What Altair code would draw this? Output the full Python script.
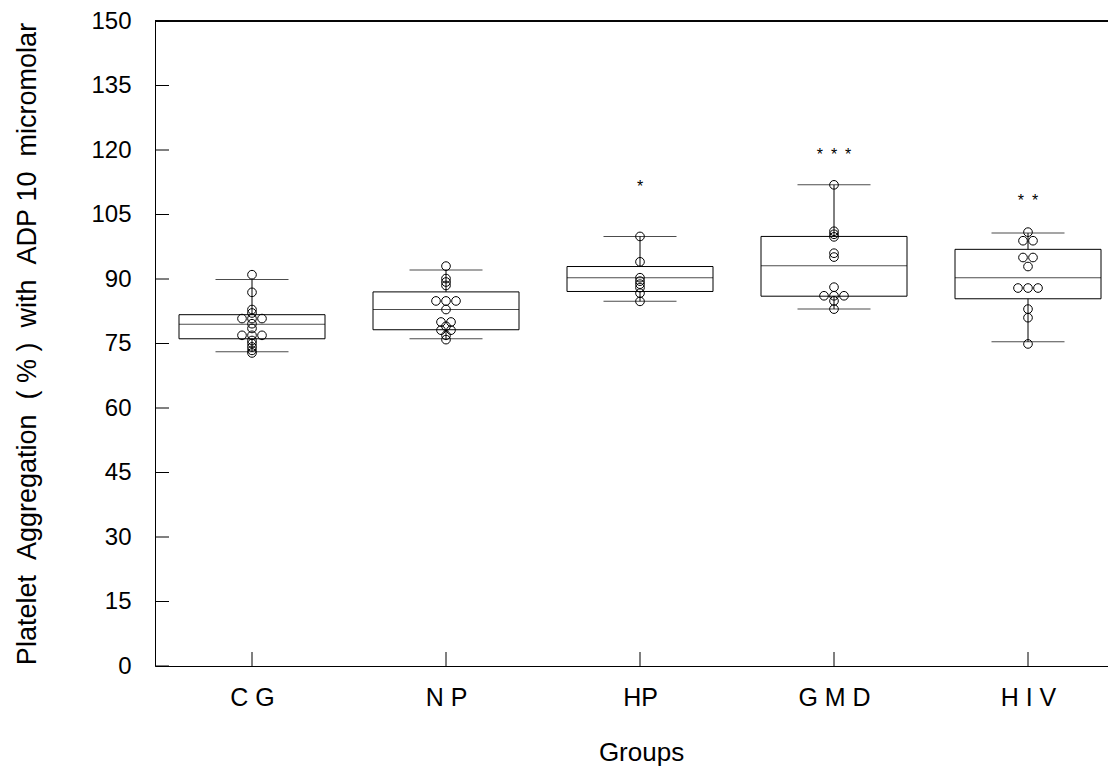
import altair as alt
import pandas as pd

# ---- data ----
groups = ["C G", "N P", "HP", "G M D", "H I V"]
q1 = [76.1, 78.2, 87.1, 86.0, 85.4]
median = [79.5, 82.9, 90.3, 93.1, 90.3]
q3 = [81.7, 87.0, 92.9, 99.9, 96.9]
whisker_low = [73.1, 76.1, 84.8, 83.0, 75.4]
whisker_high = [89.9, 92.1, 99.9, 111.9, 100.7]

cg_points = [91.0, 86.9, 82.9, 82.1, 80.8, 80.8, 80.8, 79.6, 78.5, 76.9, 76.9, 76.9,
             75.7, 75.0, 74.2, 73.4, 72.8]
np_points = [93.0, 90.1, 89.3, 88.5, 84.9, 84.9, 84.9, 82.9, 80.0, 80.0, 79.0,
             78.1, 78.1, 76.9, 75.9]
hp_points = [99.9, 94.0, 90.3, 89.5, 88.8, 88.0, 86.7, 84.8]
gmd_points = [111.9, 101.1, 100.4, 99.8, 96.0, 95.1, 88.1, 86.1, 86.1, 86.1, 84.9, 83.0]
hiv_points = [100.9, 98.9, 98.9, 95.0, 95.0, 92.9, 87.9, 87.9, 87.9, 83.0, 81.0, 74.9]

SP = "\u2002"
star_labels = ["*", SP.join(["*", "*", "*"]), SP.join(["*", "*"])]
star_groups = [2, 3, 4]
star_values = [111.6, 119.0, 108.3]

y_ticks = list(range(0, 151, 15))

# ---- build tables ----
W, H = 953, 645
STEP = 194.0  # px per category

box_df = pd.DataFrame({"idx": list(range(len(groups))), "q1": q1, "median": median,
                       "q3": q3, "lo": whisker_low, "hi": whisker_high})

rows = []
for gi, pts in enumerate([cg_points, np_points, hp_points, gmd_points, hiv_points]):
    counts = {}
    for v in pts:
        counts[v] = counts.get(v, 0) + 1
    seen = {}
    for v in pts:
        n = counts[v]
        r = seen.get(v, 0)
        seen[v] = r + 1
        off_px = (r - (n - 1) / 2) * 10.0
        rows.append({"idx": gi, "value": v, "xpos": gi + off_px / STEP})
pts_df = pd.DataFrame(rows)

star_df = pd.DataFrame({"idx": star_groups, "value": star_values, "label": star_labels})
ytick_df = pd.DataFrame({"v": y_ticks})
xtick_df = pd.DataFrame({"idx": list(range(len(groups)))})

label_expr = "[" + ",".join("'" + g + "'" for g in groups) + "][datum.value]"

NB = "\u00a0"
y_title = NB.join(["Platelet", "", "Aggregation", "", "(", "%", ")", "", "with", "", "ADP", "10", "", "micromolar"])

FONT = "Liberation Sans"
xscale = alt.Scale(domain=[-0.5, -0.5 + W / STEP], nice=False, zero=False, padding=0)
yscale = alt.Scale(domain=[0, 150], nice=False, zero=False, padding=0)

x_axis = alt.Axis(values=[0, 1, 2, 3, 4], labelExpr=label_expr, title="Groups",
                  grid=False, ticks=False, domainColor="black", domainWidth=1,
                  labelFont=FONT, labelFontSize=25, labelColor="black", labelPadding=19,
                  titleFont=FONT, titleFontSize=26, titleFontWeight="normal",
                  titleColor="black", titlePadding=29, titleX=486)
y_axis = alt.Axis(values=y_ticks, title=y_title,
                  grid=False, ticks=False, domainColor="black", domainWidth=1,
                  labelFont=FONT, labelFontSize=24, labelColor="black", labelPadding=24,
                  titleFont=FONT, titleFontSize=27, titleFontWeight="normal",
                  titleColor="black", titlePadding=49)

base = alt.Chart(box_df)

boxes = base.mark_bar(size=146, fill="white", fillOpacity=0, stroke="black",
                      strokeWidth=1).encode(
    x=alt.X("idx:Q", scale=xscale, axis=x_axis),
    y=alt.Y("q1:Q", scale=yscale, axis=y_axis),
    y2="q3:Q",
)
medians = base.mark_tick(orient="horizontal", size=146, thickness=1, color="black").encode(
    x=alt.X("idx:Q", scale=xscale), y=alt.Y("median:Q", scale=yscale))
upper_whisker = base.mark_rule(color="black", strokeWidth=1).encode(
    x=alt.X("idx:Q", scale=xscale), y=alt.Y("q3:Q", scale=yscale), y2="hi:Q")
lower_whisker = base.mark_rule(color="black", strokeWidth=1).encode(
    x=alt.X("idx:Q", scale=xscale), y=alt.Y("lo:Q", scale=yscale), y2="q1:Q")
cap_hi = base.mark_tick(orient="horizontal", size=73, thickness=1, color="black").encode(
    x=alt.X("idx:Q", scale=xscale), y=alt.Y("hi:Q", scale=yscale))
cap_lo = base.mark_tick(orient="horizontal", size=73, thickness=1, color="black").encode(
    x=alt.X("idx:Q", scale=xscale), y=alt.Y("lo:Q", scale=yscale))

points = alt.Chart(pts_df).mark_point(shape="circle", filled=False, size=75,
                                      color="black", strokeWidth=1, opacity=1).encode(
    x=alt.X("xpos:Q", scale=xscale), y=alt.Y("value:Q", scale=yscale))

stars = alt.Chart(star_df).mark_text(font=FONT, fontSize=16, color="black",
                                     baseline="middle", dy=1).encode(
    x=alt.X("idx:Q", scale=xscale), y=alt.Y("value:Q", scale=yscale), text="label:N")

yticks = alt.Chart(ytick_df).mark_rule(color="black", strokeWidth=1).encode(
    y=alt.Y("v:Q", scale=yscale), x=alt.value(0), x2=alt.value(14))
xticks = alt.Chart(xtick_df).mark_rule(color="black", strokeWidth=1).encode(
    x=alt.X("idx:Q", scale=xscale), y=alt.value(H - 14), y2=alt.value(H))
topline = alt.Chart(xtick_df).mark_rule(color="black", strokeWidth=1).encode(
    x=alt.value(0), x2=alt.value(W), y=alt.value(0))

chart = alt.layer(boxes, medians, upper_whisker, lower_whisker, cap_hi, cap_lo,
                  points, stars, yticks, xticks, topline).properties(
    width=W, height=H,
    autosize=alt.AutoSizeParams(type="none"),
    padding={"left": 147, "top": 13, "right": 0, "bottom": 100},
).configure_view(stroke=None).configure(background="white")

chart.save("out.html", embed_options={"renderer": "svg", "actions": False})
